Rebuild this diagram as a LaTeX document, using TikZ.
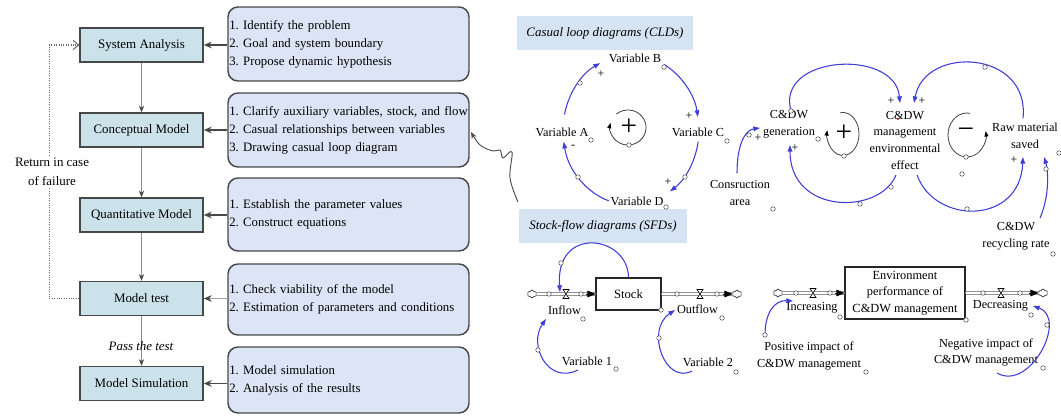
\documentclass[tikz,border=0pt]{standalone}
\usepackage{fontspec}
\setmainfont{Liberation Serif}
\usetikzlibrary{arrows.meta,shapes.symbols}
\definecolor{lbfill}{RGB}{203,226,234}
\definecolor{rbfill}{RGB}{219,229,245}
\definecolor{ttfill}{RGB}{214,227,243}
\definecolor{cldblue}{RGB}{62,62,215}
\definecolor{bordr}{RGB}{72,72,72}
\begin{document}
\frenchspacing
\begin{tikzpicture}[x=0.75pt,y=-0.75pt,
  lbox/.style={draw=bordr, line width=1.1pt, fill=lbfill, minimum width=92.25pt, minimum height=25.5pt, inner sep=0pt, font=\fontsize{9.7}{11.6}\selectfont},
  rbox/.style={draw=bordr, line width=1.1pt, fill=rbfill, rounded corners=7.5pt, text width=178.75pt, inner xsep=1pt, align=left, font=\fontsize{9.6}{13.5}\selectfont\frenchspacing},
  harrow/.style={draw=bordr, line width=1.3pt, -{Stealth[length=6pt,width=5pt]}},
  harrowlt/.style={draw=gray!70, line width=0.6pt, -{Stealth[length=6pt,width=5pt,color=bordr]}},
  varrow/.style={draw=gray!90, line width=0.7pt, -{Stealth[length=5pt,width=4pt,color=bordr]}},
  fb/.style={densely dotted, draw=gray!85!black, line width=0.8pt, -{Straight Barb[length=4pt,width=7pt]}},
  ttl/.style={fill=ttfill, inner sep=0pt, font=\fontsize{9.7}{11.6}\selectfont\itshape},
  dtxt/.style={align=center, inner sep=0.5pt, font=\fontsize{9.2}{12.5}\selectfont},
  cld/.style={draw=cldblue, line width=0.8pt, -{Triangle[length=5pt,width=3.5pt]}},
  lp/.style={draw=black!75, line width=0.6pt, -{Triangle[length=4pt,width=3pt,color=black]}},
  pol/.style={inner sep=0pt, font=\fontsize{9}{9}\selectfont},
  bigpol/.style={inner sep=0pt, font=\fontsize{22}{22}\selectfont},
  mk/.style={circle, draw=black!70, fill=white, line width=0.4pt, inner sep=0pt, minimum size=3.4pt},
  cloudn/.style={cloud, draw=black!80, cloud puffs=6, aspect=1.2, minimum width=7pt, minimum height=6pt, inner sep=0pt, fill=white, line width=0.5pt},
  pipe/.style={draw=black!75, double=white, double distance=1.6pt, line width=0.45pt},
  pipetip/.style={draw=black, line width=0.5pt, -{Triangle[length=6pt,width=5pt]}},
  valve/.pic={\draw[fill=white,line width=0.5pt] (-3,-4.5) -- (3,-4.5) -- (-3,4.5) -- (3,4.5) -- cycle;}
]
\useasboundingbox (0,0) rectangle (1061,416);

% ---------------- left panel ----------------
\node[lbox] (sa) at (141.5,45) {System Analysis};
\node[lbox] (cm) at (141.5,130) {Conceptual Model};
\node[lbox] (qm) at (141.5,215) {Quantitative Model};
\node[lbox] (mt) at (141.5,298.5) {Model test};
\node[lbox] (ms) at (141.5,383.5) {Model Simulation};

\node[rbox,minimum height=55.5pt] (r1) at (348.5,44) {1. Identify the problem\\2. Goal and system boundary\\3. Propose dynamic hypothesis};
\node[rbox,minimum height=55.5pt] (r2) at (348.5,130) {\mbox{1. Clarify auxiliary variables, stock, and flow}\\2. Casual relationships between variables\\3. Drawing casual loop diagram};
\node[rbox,minimum height=54.75pt] (r3) at (348.5,214.5) {1. Establish the parameter values\\2. Construct equations};
\node[rbox,minimum height=53.25pt] (r4) at (348.5,299.5) {1. Check viability of the model\\2. Estimation of parameters and conditions};
\node[rbox,minimum height=49.5pt] (r5) at (348.5,380) {1. Model simulation\\2. Analysis of the results};

\draw[harrow] (r1.west |- sa.east) -- (sa.east);
\draw[harrow] (r2.west |- cm.east) -- (cm.east);
\draw[harrow] (r3.west |- qm.east) -- (qm.east);
\draw[harrowlt] (r4.west |- mt.east) -- (mt.east);
\draw[harrow] (r5.west |- ms.east) -- (ms.east);

\draw[varrow] (sa.south) -- (cm.north);
\draw[varrow] (cm.south) -- (qm.north);
\draw[varrow] (qm.south) -- (mt.north);
\draw[varrow] (mt.south) -- (ms.north);

\draw[fb] (mt.west) -- ++(-30,0) |- (sa.west);
\node[fill=white, align=center, inner sep=1pt, font=\fontsize{9.7}{14}\selectfont] (ret) at (52,172) {Return in case\\of failure};
\node[inner sep=0pt, font=\fontsize{9.7}{11.6}\selectfont\itshape] (pass) at (141,346) {Pass the test};

% wavy connector
\coordinate (sq0) at (518,202);
\draw[draw=black!70, line width=0.7pt, -{Stealth[length=5pt,width=4pt]}] plot[smooth, tension=0.6] coordinates {(sq0) (510,178) (512,152) (503,158) (500,150) (493,151) (480,145) (471,132)};

% ---------------- titles ----------------
\node[ttl, minimum width=132pt, minimum height=25.5pt] (t1) at (605,33) {Casual loop diagrams (CLDs)};
\node[ttl, minimum width=126pt, minimum height=25.5pt] (t2) at (603,226) {Stock-flow diagrams (SFDs)};

% ---------------- CLD 1 ----------------
\node[dtxt] (vA) at (562,132) {Variable A};
\node[dtxt] (vB) at (635,58) {Variable B};
\node[dtxt] (vC) at (698,132) {Variable C};
\node[dtxt] (vD) at (637,201) {Variable D};
\coordinate (cc) at (631,130);
\draw[cld] (cc) ++(-168:68 and 75) arc[start angle=-168, end angle=-117, x radius=68, y radius=75];
\draw[cld] (cc) ++(-61:68 and 75) arc[start angle=-61, end angle=-10, x radius=68, y radius=75];
\draw[cld] (cc) ++(9:68 and 75) arc[start angle=9, end angle=55, x radius=68, y radius=75];
\draw[cld] (cc) ++(109:68 and 75) arc[start angle=109, end angle=171, x radius=68, y radius=75];
\coordinate (lp1) at (628,127.5);
\draw[lp] (lp1) ++(-130:18 and 17.5) arc[start angle=-130, end angle=195, x radius=18, y radius=17.5];
\node[bigpol] (p1) at (629,127) {+};
\node[pol] (s1) at (601,74) {+};
\node[pol] (s2) at (689,116) {+};
\node[pol] (s3) at (668,182) {+};
\node[pol] (s4) at (573,147) {-};
\node[mk] (m1) at (591,140) {};
\node[mk] (m2) at (664,67) {};
\node[mk] (m3) at (727,141) {};
\node[mk] (m4) at (666,207) {};
\node[mk] (m5) at (580,83) {};
\node[mk] (m6) at (685,177) {};
\node[mk] (m7) at (578,177) {};
\node[mk] (m8) at (629,145) {};

% ---------------- CLD 2 ----------------
\node[dtxt] (gen) at (789,124) {C\&DW\\generation};
\node[dtxt] (mgmt) at (905,140) {C\&DW\\management\\environmental\\effect};
\node[dtxt] (raw) at (1025,136) {Raw material\\saved};
\node[dtxt] (cons) at (740,193) {Consruction\\area};
\node[dtxt] (rec) at (1016,236) {C\&DW\\recycling rate};

\coordinate (a1s) at (791,111); \coordinate (a1e) at (900,103);
\coordinate (a2s) at (1023,118); \coordinate (a2e) at (914,103);
\coordinate (a3s) at (896,175); \coordinate (a3e) at (790,145);
\coordinate (a4s) at (917,175); \coordinate (a4e) at (1023,157);
\coordinate (a5s) at (737,173); \coordinate (a5e) at (760,128);
\coordinate (a6s) at (1040,218); \coordinate (a6e) at (1044,157);
\draw[cld] (a1s) .. controls (775,55) and (895,48) .. (a1e);
\draw[cld] (a2s) .. controls (1030,50) and (925,45) .. (a2e);
\draw[cld] (a3s) .. controls (880,215) and (790,215) .. (a3e);
\draw[cld] (a4s) .. controls (935,225) and (1020,225) .. (a4e);
\draw[cld] (a5s) .. controls (737,145) and (745,130) .. (a5e);
\draw[cld] (a6s) .. controls (1050,195) and (1048,170) .. (a6e);

\coordinate (lp2) at (843,134);
\draw[lp] (lp2) ++(-100:16 and 21.5) arc[start angle=-100, end angle=190, x radius=16, y radius=21.5];
\coordinate (lp3) at (967,135);
\draw[lp] (lp3) ++(-80:19 and 22) arc[start angle=-80, end angle=-370, x radius=19, y radius=22];
\node[bigpol] (p2) at (844,133) {+};
\node[bigpol] (p3) at (966,133) {−};

\node[pol] (s5) at (891,101) {+};
\node[pol] (s6) at (922,101) {+};
\node[pol] (s7) at (758,138) {+};
\node[pol] (s8) at (795,148) {+};
\node[pol] (s9) at (1014,160) {+};

\node[mk] (n1) at (818,139) {};
\node[mk] (n2) at (773,209) {};
\node[mk] (n3) at (791,111) {};
\node[mk] (n4) at (749,135) {};
\node[mk] (n5) at (891,187) {};
\node[mk] (n6) at (860,204) {};
\node[mk] (n7) at (844,156) {};
\node[mk] (n8) at (966,157) {};
\node[mk] (n9) at (962,174) {};
\node[mk] (n10) at (967,209) {};
\node[mk] (n11) at (985,67) {};
\node[mk] (n12) at (1046,169) {};
\node[mk] (n13) at (1053,254) {};
\node[mk] (n14) at (1059,153) {};
\fill[red!85!black] (898,119) circle[radius=1.2];

% ---------------- SFD 1 ----------------
\node[draw=black!85, line width=0.8pt, fill=white, minimum width=48.75pt, minimum height=24pt, inner sep=0pt, font=\fontsize{9.5}{11}\selectfont] (stock) at (628.5,294) {Stock};
\node[cloudn] (cl1) at (532,294) {};
\node[cloudn] (cl2) at (737,294) {};
\draw[pipe] (cl1.east) -- (stock.west);
\draw[pipe] (stock.east) -- (cl2.west);
\draw[pipetip] ([xshift=-7pt]stock.west) -- (stock.west);
\draw[pipetip] ([xshift=-7pt]cl2.west) -- (cl2.west);
\pic at (566,294) {valve};
\pic at (700,294) {valve};
\node[mk] (f1) at (549,294) {};
\node[mk] (f2) at (581,294) {};
\node[mk] (f3) at (677,294) {};
\node[mk] (f4) at (717,294) {};
\node[dtxt] (inflow) at (564.5,310) {Inflow};
\node[dtxt] (outflow) at (697.5,309) {Outflow};
\node[dtxt] (v1) at (587,361) {Variable 1};
\node[dtxt] (v2) at (708,362) {Variable 2};
\node[mk] (f5) at (583,319) {};
\node[mk] (f6) at (722,318) {};
\node[mk] (f7) at (661,310) {};
\node[mk] (f8) at (616,369) {};
\node[mk] (f9) at (736,372) {};
\coordinate (b1e) at (560,292);
\coordinate (b2s) at (578,370); \coordinate (b2e) at (546,319);
\coordinate (b3s) at (692,371); \coordinate (b3e) at (675,310);
\draw[cld] (stock.north) .. controls (628,235) and (555,225) .. (b1e);
\draw[cld] (b2s) .. controls (548,385) and (528,345) .. (b2e);
\draw[cld] (b3s) .. controls (665,385) and (645,330) .. (b3e);
\node[mk] (f10) at (561,263) {};
\node[mk] (f11) at (538,350) {};
\node[mk] (f12) at (659,338) {};

% ---------------- SFD 2 ----------------
\node[draw=black!85, line width=0.8pt, fill=white, minimum width=90pt, minimum height=39pt, inner sep=0pt, align=center, font=\fontsize{9.3}{12.4}\selectfont] (env) at (905,293) {Environment\\performance of\\C\&DW management};
\node[cloudn] (cl3) at (778,293) {};
\node[cloudn] (cl4) at (1043,293) {};
\draw[pipe] (cl3.east) -- (env.west);
\draw[pipe] (env.east) -- (cl4.west);
\draw[pipetip] ([xshift=-7pt]env.west) -- (env.west);
\draw[pipetip] ([xshift=-7pt]cl4.west) -- (cl4.west);
\pic at (813,293) {valve};
\pic at (1001,293) {valve};
\node[mk] (g1) at (796,293) {};
\node[mk] (g2) at (830,293) {};
\node[mk] (g3) at (983,293) {};
\node[mk] (g4) at (1020,293) {};
\node[dtxt] (incr) at (812,308) {Increasing};
\node[dtxt] (decr) at (1000.5,306) {Decreasing};
\node[dtxt] (pos) at (809,356) {Positive impact of\\C\&DW management};
\node[dtxt] (neg) at (986,352.5) {Negative impact of\\C\&DW management};
\node[mk] (g5) at (840,317) {};
\node[mk] (g6) at (966,320) {};
\node[mk] (g7) at (1031,315) {};
\node[mk] (g8) at (866,372) {};
\node[mk] (g9) at (1043,368) {};
\coordinate (c1s) at (765,335); \coordinate (c1e) at (793,301);
\coordinate (c2s) at (997,373); \coordinate (c2e) at (1033,306);
\draw[cld] (c1s) .. controls (765,312) and (775,300) .. (c1e);
\draw[cld] (c2s) .. controls (1030,392) and (1068,318) .. (c2e);
\node[mk] (g10) at (765,335) {};
\node[mk] (g11) at (1047,325) {};
\end{tikzpicture}
\end{document}
